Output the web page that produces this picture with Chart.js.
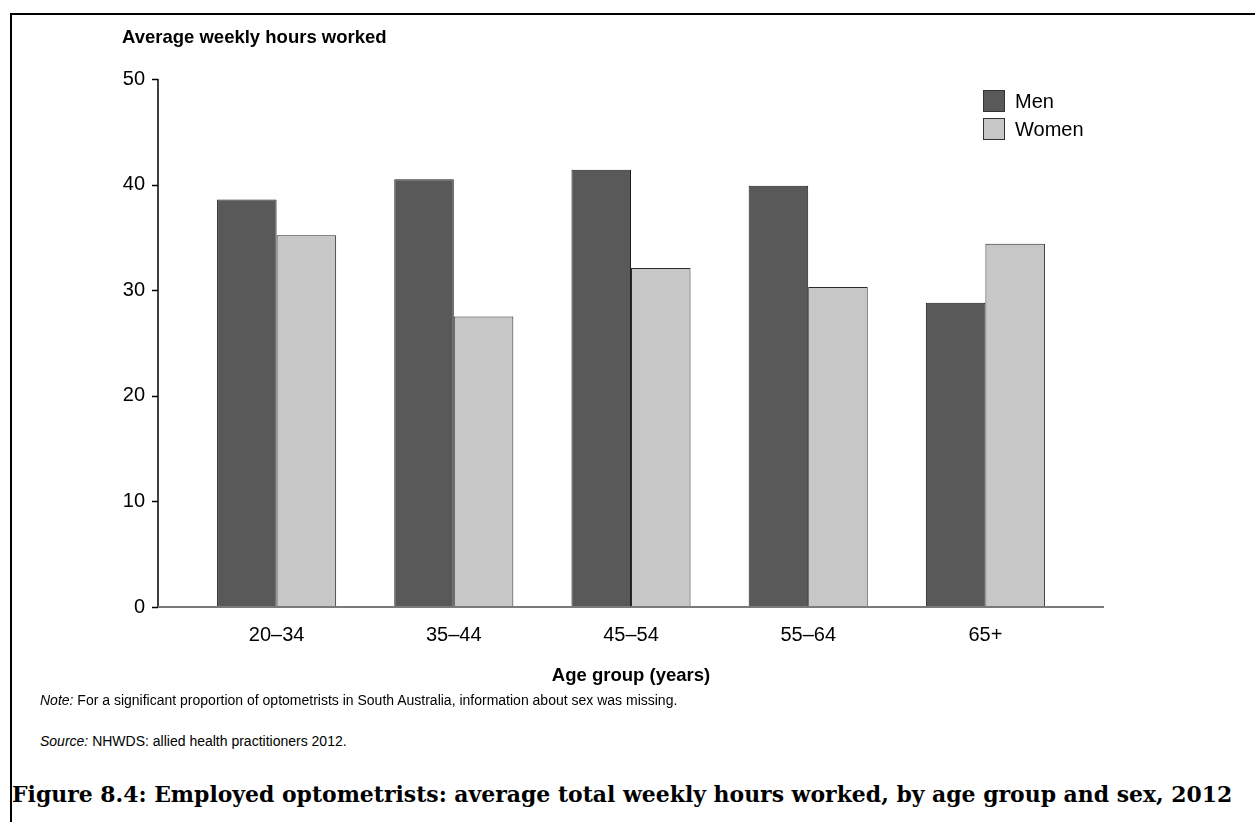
<!DOCTYPE html>
<html>
<head>
<meta charset="utf-8">
<script src="https://cdn.jsdelivr.net/npm/chart.js@4.4.1/dist/chart.umd.min.js"></script>
<style>
  html, body { margin: 0; padding: 0; background: #fff; overflow: hidden; }
  body { width: 1255px; height: 822px; position: relative; font-family: "Liberation Sans", Arial, sans-serif; color: #000; }
  .frame { position: absolute; left: 10px; top: 13px; width: 1400px; height: 1000px; border: 2px solid #000; box-sizing: border-box; }
  .chart-box { position: absolute; left: 0; top: 0; width: 1255px; height: 700px; }
  .y-title { position: absolute; left: 122px; top: 26px; font-weight: bold; font-size: 18.5px; line-height: 22px; white-space: nowrap; }
  .legend { position: absolute; left: 983px; top: 87px; font-size: 20px; }
  .legend div { height: 28px; display: flex; align-items: center; }
  .legend span.sw { display: inline-block; width: 20px; height: 20px; border: 1px solid #333; margin-right: 10px; }
  .note { position: absolute; left: 40px; font-size: 14px; line-height: 16px; white-space: nowrap; }
  .caption { position: absolute; left: 12px; top: 781px; font-family: "DejaVu Serif", "Liberation Serif", serif; font-weight: bold; font-size: 20px; line-height: 26px; white-space: nowrap; }
</style>
</head>
<body>
<div class="frame"></div>
<div class="chart-box"><canvas id="hoursChart"></canvas></div>
<div class="y-title">Average weekly hours worked</div>
<div class="legend" id="legend"></div>
<div class="note" style="top: 692px;"><i>Note:</i> For a significant proportion of optometrists in South Australia, information about sex was missing.</div>
<div class="note" style="top: 733px;"><i>Source:</i> NHWDS: allied health practitioners 2012.</div>
<div class="caption" id="caption">Figure 8.4: Employed optometrists: average total weekly hours worked, by age group and sex, 2012</div>

<script>
const ageGroups = ["20–34", "35–44", "45–54", "55–64", "65+"];
const menHours = [38.6, 40.5, 41.4, 39.9, 28.8];
const womenHours = [35.2, 27.5, 32.1, 30.3, 34.4];
const yTicks = [0, 10, 20, 30, 40, 50];

const MEN_COLOR = "#595959";
const WOMEN_COLOR = "#c7c7c7";

// axis lines sit 30px outside the plot area, like the original
const axisLines = {
    id: "axisLines",
    afterDatasetsDraw: function (chart) {
        const ctx = chart.ctx;
        const area = chart.chartArea;
        const y = chart.scales.y;
        const x0 = area.left - 30;
        const top = y.getPixelForValue(yTicks[yTicks.length - 1]);
        const bottom = y.getPixelForValue(0);

        ctx.save();
        ctx.strokeStyle = "#000";
        ctx.lineWidth = 1.5;
        ctx.beginPath();
        ctx.moveTo(x0, top);
        ctx.lineTo(x0, bottom);
        yTicks.forEach((v) => {
            const py = Math.round(y.getPixelForValue(v)) + 0.5;
            ctx.moveTo(x0 - 6, py);
            ctx.lineTo(x0, py);
        });
        ctx.stroke();

        ctx.strokeStyle = "#7a7a7a";
        ctx.lineWidth = 2;
        ctx.beginPath();
        ctx.moveTo(x0, bottom);
        ctx.lineTo(area.right + 30, bottom);
        ctx.stroke();
        ctx.restore();
    },
};

const chart = new Chart(document.getElementById("hoursChart"), {
    type: "bar",
    data: {
        labels: ageGroups,
        datasets: [
            {
                label: "Men",
                data: menHours,
                backgroundColor: MEN_COLOR,
                borderColor: "#1e1e1e",
                borderWidth: 1,
                categoryPercentage: 0.672,
                barPercentage: 1.0,
            },
            {
                label: "Women",
                data: womenHours,
                backgroundColor: WOMEN_COLOR,
                borderColor: "#2a2a2a",
                borderWidth: 1,
                categoryPercentage: 0.672,
                barPercentage: 1.0,
            },
        ],
    },
    options: {
        responsive: true,
        maintainAspectRatio: false,
        animation: false,
        layout: {
            padding: { top: 79, right: 181, bottom: 0, left: 0 },
        },
        plugins: {
            legend: { display: false },
            tooltip: { enabled: false },
        },
        scales: {
            x: {
                grid: { display: false, drawTicks: false },
                border: { display: false },
                ticks: {
                    color: "#000",
                    padding: 16,
                    font: { family: "Liberation Sans", size: 20 },
                },
                title: {
                    display: true,
                    text: "Age group (years)",
                    color: "#000",
                    font: { family: "Liberation Sans", size: 18.5, weight: "bold" },
                    padding: { top: 0, bottom: 13 },
                },
                afterFit: (scale) => {
                    scale.height = 93;
                },
            },
            y: {
                min: 0,
                max: 50,
                grid: { display: false, drawTicks: false },
                border: { display: false },
                ticks: {
                    stepSize: 10,
                    color: "#000",
                    padding: 43,
                    font: { family: "Liberation Sans", size: 20 },
                },
                afterFit: (scale) => {
                    scale.width = 188;
                },
            },
        },
    },
    plugins: [axisLines],
});

// legend built from the datasets
const legendEl = document.getElementById("legend");
chart.data.datasets.forEach((ds) => {
    const row = document.createElement("div");
    row.innerHTML = '<span class="sw" style="background:' + ds.backgroundColor + '"></span>' + ds.label;
    legendEl.appendChild(row);
});

// stretch the caption to the original's width
const cap = document.getElementById("caption");
const capWidth = cap.getBoundingClientRect().width;
cap.style.fontSize = (20 * 1221 / capWidth).toFixed(2) + "px";
</script>
</body>
</html>
